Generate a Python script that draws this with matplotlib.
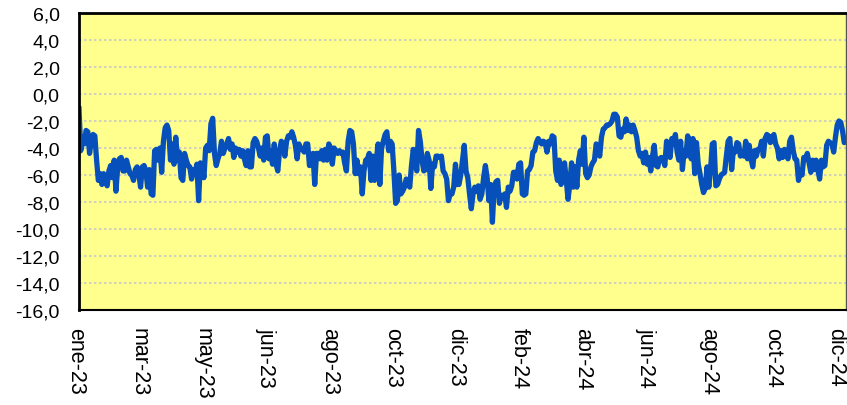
import numpy as np
from matplotlib import pyplot as plt
from matplotlib import transforms

plt.rcParams['font.family'] = ['Liberation Sans', 'DejaVu Sans']

# daily values (ene-23 .. dic-24)
vals_1 = [-1.1, -4.2, -3.2, -3.7, -2.7, -2.8, -4.4, -3.5, -3.0, -3.1,
          -4.9, -6.4, -5.9, -6.7, -5.9, -6.4, -6.8, -5.7, -5.3, -6.2,
          -4.9, -7.2, -5.4, -4.8, -4.7, -5.7, -5.7, -4.9, -5.4, -5.9,
          -6.0, -6.4, -5.6, -5.4, -5.9, -6.9, -5.4, -5.3, -5.7, -6.9,
          -5.6, -7.4, -7.5, -4.2, -4.1, -4.9, -4.0, -5.8, -3.5, -2.5,
          -2.3, -2.7, -4.9, -3.7, -5.2, -3.2, -4.9, -4.3, -6.2, -6.4,
          -4.4, -4.9, -5.3, -5.4, -6.3, -5.6, -5.9, -5.2, -7.9, -5.1,
          -5.2, -6.2, -4.0, -3.8, -4.2, -2.2, -1.8, -4.4, -5.3, -4.8,
          -4.4, -3.5, -4.4, -4.0, -3.7, -3.3, -4.1, -3.7, -4.7]
vals_2 = [-4.0, -4.3, -4.1, -4.6, -4.2, -4.8, -5.3, -4.2, -5.4, -5.4,
          -3.6, -3.3, -3.5, -4.0, -4.6, -4.0, -4.9, -3.2, -3.1, -4.8,
          -4.2, -5.2, -3.7, -5.2, -5.7, -4.2, -3.5, -3.7, -4.6, -3.5,
          -3.1, -3.2, -2.8, -3.2, -3.8, -4.8, -3.7, -4.0, -4.1, -4.3,
          -3.7, -3.7, -5.3, -5.1, -4.4, -6.7, -4.4, -4.4, -4.8, -4.2,
          -4.9, -4.1, -4.9, -3.7, -4.0, -5.2, -4.0, -4.2, -4.4, -4.2,
          -4.4, -4.3, -5.1, -5.7, -3.5, -2.7, -2.8, -3.7, -5.9, -4.9,
          -5.9, -5.4, -7.4, -5.7, -4.9, -4.8, -4.4, -6.4, -4.6, -6.4,
          -4.9, -3.7, -6.7, -4.0, -3.5]
vals_3 = [-3.0, -2.8, -4.2, -3.5, -3.7, -5.7, -8.1, -7.9, -6.0, -7.4,
          -7.2, -6.9, -6.3, -6.4, -6.9, -5.3, -4.1, -4.8, -5.7, -2.7,
          -3.5, -4.9, -5.7, -5.6, -4.4, -4.9, -7.0, -5.2, -5.4, -4.6,
          -4.6, -4.7, -4.6, -5.7, -5.9, -6.3, -7.9, -7.4, -7.4, -6.9,
          -5.2, -6.7, -6.7, -6.0, -4.9, -3.8, -5.7, -6.2, -7.4, -8.5,
          -7.4, -6.9, -7.2, -6.8, -7.8, -7.4, -6.2, -5.3, -6.2, -7.9,
          -6.7, -9.5, -6.9, -6.5, -6.4, -8.1, -7.5, -7.7, -7.4, -8.4,
          -6.9, -7.2, -6.8, -5.8, -5.8, -6.3, -5.2, -5.1, -7.4, -7.5,
          -7.4, -5.7, -5.6, -5.3, -4.3, -4.2, -3.6, -3.3]
vals_4 = [-3.5, -3.7, -3.5, -3.6, -4.3, -3.5, -3.7, -3.1, -3.2, -5.7,
          -6.4, -4.9, -6.7, -6.2, -5.1, -6.4, -7.8, -6.7, -5.1, -6.9,
          -5.4, -6.9, -4.9, -4.2, -5.2, -3.2, -5.9, -6.2, -6.0, -5.4,
          -5.1, -4.9, -3.7, -4.1, -4.6, -3.2, -2.6, -2.5, -2.3, -2.3,
          -2.2, -2.0, -1.5, -1.5, -1.7, -3.1, -3.2, -2.6, -2.8, -1.85,
          -2.7, -2.3, -2.8, -2.3, -2.7, -3.2, -4.2, -4.6, -4.4, -5.1,
          -4.3, -5.2, -4.7, -5.7, -4.6, -3.8, -5.3, -5.4, -4.8, -4.7,
          -4.8, -5.3, -3.5, -3.7, -4.7, -3.3, -3.7, -3.0, -4.3, -4.9,
          -3.5, -5.6, -4.2, -4.6, -3.1, -3.5, -4.8, -3.3, -5.9]
vals_5 = [-3.6, -5.2, -5.9, -6.7, -7.3, -7.0, -5.4, -6.9, -5.6, -3.7,
          -3.6, -6.8, -6.7, -6.3, -6.0, -5.9, -5.8, -4.6, -3.5, -3.3,
          -5.6, -4.1, -4.3, -3.6, -3.7, -4.6, -4.3, -4.6, -3.5, -4.8,
          -3.8, -4.8, -5.4, -4.2, -4.6, -4.1, -4.1, -3.5, -4.6, -3.3,
          -3.0, -3.1, -3.6, -3.2, -3.0, -3.7, -4.0, -4.8, -4.2, -4.7,
          -4.1, -4.3, -4.8, -3.5, -3.2, -4.2, -4.8, -4.9, -6.4, -5.7,
          -6.0, -4.7, -4.8, -4.4, -5.1, -5.8, -4.9, -5.6, -4.9, -5.6,
          -6.3, -4.9, -5.4, -5.3, -3.8, -3.5, -3.6, -3.7, -4.3, -3.2,
          -2.3, -2.0, -2.1, -2.7, -3.6, -3.5]

tick_labels = ['ene-23', 'mar-23', 'may-23', 'jun-23', 'ago-23', 'oct-23', 'dic-23',
               'feb-24', 'abr-24', 'jun-24', 'ago-24', 'oct-24', 'dic-24']

n_days = 522      # business days in 2023-2024
tick_step = 43

y = np.array(vals_1 + vals_2 + vals_3 + vals_4 + vals_5)
x = np.linspace(0, n_days - 1, len(y))

fig = plt.figure(figsize=(8.47, 4.06), dpi=100)
ax = fig.add_axes([79 / 847, 1 - 311 / 406, 767 / 847, 297 / 406])
ax.set_facecolor('#FFFF8E')

ax.plot(x, y, color='#0750BC', lw=3.8, solid_joinstyle='round')

ax.set_xlim(0, n_days - 1)
ax.set_ylim(-16, 6)
ax.set_yticks(np.arange(-16, 7, 2))
ax.set_yticklabels([f'{v:.1f}'.replace('.', ',') for v in np.arange(-16, 7, 2)])
ax.set_xticks(np.arange(len(tick_labels)) * tick_step)
ax.set_xticklabels(tick_labels, rotation=-90)

ax.grid(axis='y', color='#C8C8C8', ls=(0, (1.5, 1.5)), lw=1.2)
ax.tick_params(axis='y', length=0, pad=14, labelsize=14)
ax.tick_params(axis='x', length=0, pad=12, labelsize=15.5)

# labels sit a little left of the tick, as in the original
shift = transforms.ScaledTranslation(-3 / 100, 0, fig.dpi_scale_trans)
for lbl in ax.get_xticklabels():
    lbl.set_transform(lbl.get_transform() + shift)

for side in ['left', 'top']:
    ax.spines[side].set_linewidth(2)
ax.spines['bottom'].set_linewidth(1.5)
ax.spines['right'].set_linewidth(1)
ax.spines['right'].set_color('#555555')

fig.savefig('out.png', dpi=100)
